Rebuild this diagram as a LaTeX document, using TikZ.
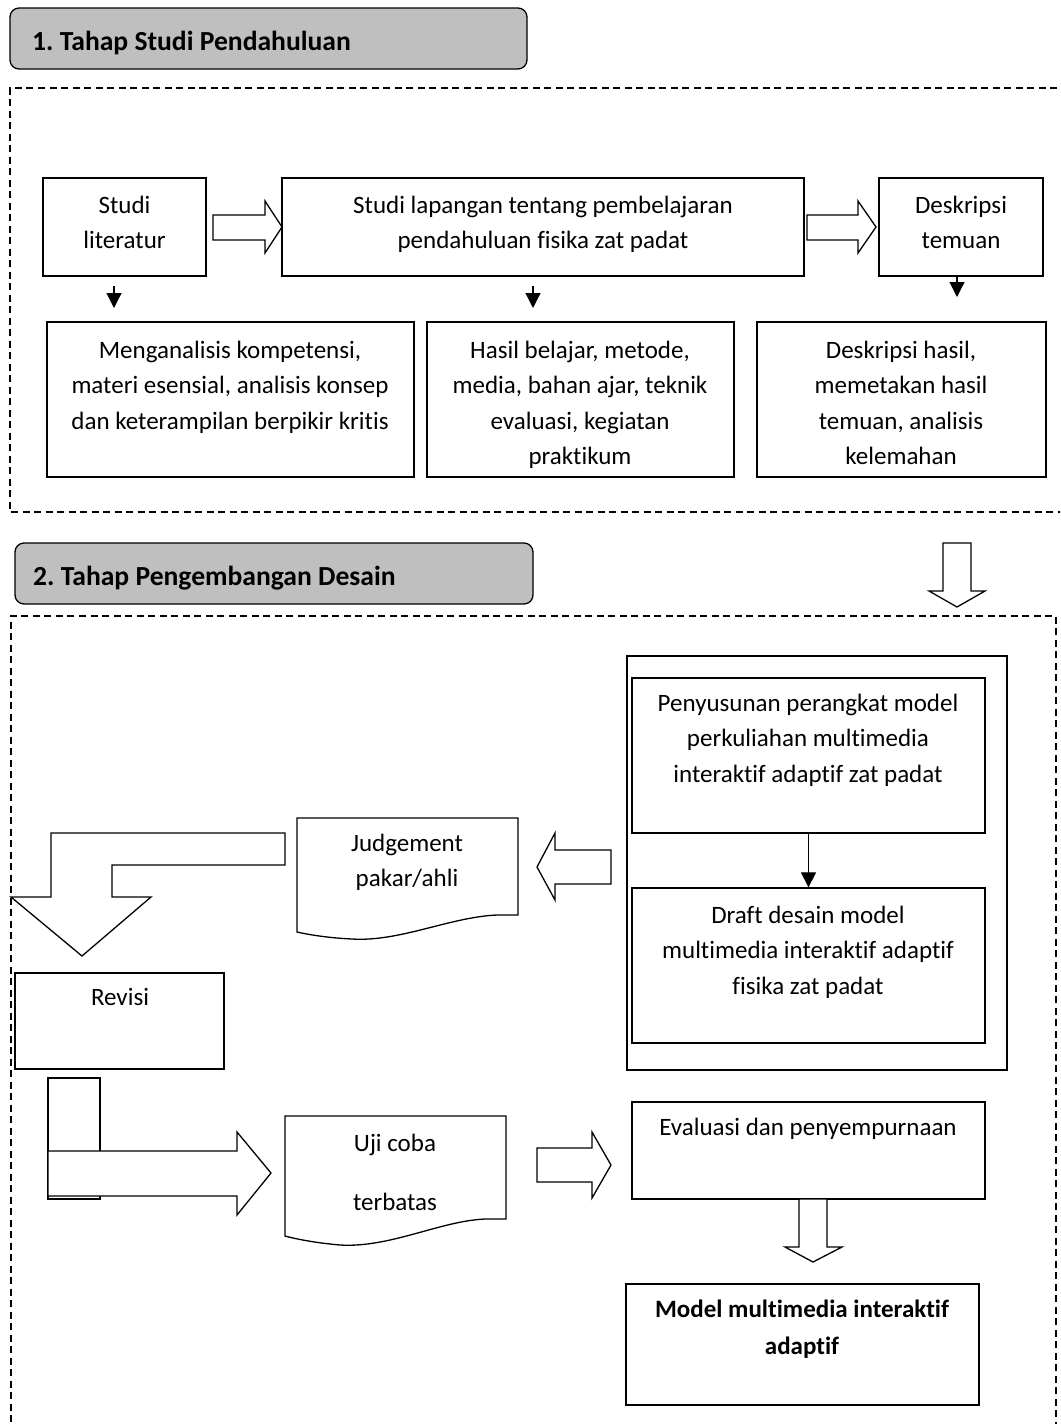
\documentclass[tikz,border=0pt]{standalone}
\usepackage{fontspec}
\setmainfont{Carlito}[Ligatures={NoCommon}]
\usetikzlibrary{arrows.meta,fit}
\definecolor{headgray}{RGB}{191,191,191}
\frenchspacing

\tikzset{
  box/.style={draw, line width=1.3pt, inner sep=0pt, fill=white},
  % multi-line labels are placed by the baseline of their last line
  lbl/.style={font=\fontsize{25}{35.5}\selectfont, align=center, anchor=base, inner sep=0pt},
  hdrbox/.style={draw, line width=1.3pt, fill=headgray, rounded corners=9pt, inner sep=0pt},
  hdrtext/.style={font=\fontsize{27.6}{32}\selectfont\bfseries, anchor=base west, inner sep=0pt},
  blockarrow/.style={draw, line width=1.3pt, fill=white, line join=miter},
  docshape/.style={draw, line width=1.3pt, fill=white},
  stagebox/.style={draw, line width=1.4pt, dash pattern=on 7pt off 4.5pt},
  smallarrow/.style={draw, line width=1.2pt, -{Triangle[width=15pt,length=15pt]}},
}

% rectangle node from its two corners
\newcommand\cornerbox[5]{\node[box, fit={(#2,#3) (#4,#5)}] (#1) {};}

\begin{document}
\begin{tikzpicture}[x=1pt, y=-1pt]
\useasboundingbox (0,0) rectangle (1060,1424);
\clip (0,0) rectangle (1060,1424);

% ---------- stage 1 ----------
\node[hdrbox, fit={(10,8) (527,69)}] (hdr1) {};
\node[hdrtext] (hdr1t) at (32,50) {1. Tahap Studi Pendahuluan};

\draw[stagebox] (1080,88) -- (10,88) -- (10,512) -- (1080,512);

\cornerbox{lit}{43}{178}{206}{276}
\cornerbox{lap}{282}{178}{804}{276}
\cornerbox{desk}{879}{178}{1043}{276}
\node[lbl] (litt) at (124.5,248.5) {Studi\\literatur};
\node[lbl] (lapt) at (543,248.5) {Studi lapangan tentang pembelajaran\\pendahuluan fisika zat padat};
\node[lbl] (deskt) at (961,248.5) {Deskripsi\\temuan};

\draw[blockarrow] (213,215) -- (265,215) -- (265,201) -- (282,227) -- (265,253) -- (265,240) -- (213,240) -- cycle;
\draw[blockarrow] (807,215) -- (858,215) -- (858,201) -- (876,227) -- (858,253) -- (858,240) -- (807,240) -- cycle;

\cornerbox{ana}{47}{322}{414}{477}
\cornerbox{hasil}{427}{322}{734}{477}
\cornerbox{deskh}{757}{322}{1046}{477}
\node[lbl] (anat) at (230,429) {Menganalisis kompetensi,\\materi esensial, analisis konsep\\dan keterampilan berpikir kritis};
\node[lbl] (hasilt) at (580,464.5) {Hasil belajar, metode,\\media, bahan ajar, teknik\\evaluasi, kegiatan\\praktikum};
\node[lbl] (deskht) at (901,464.5) {Deskripsi hasil,\\memetakan hasil\\temuan, analisis\\kelemahan};

\coordinate (d1a) at (114,286);  \coordinate (d1b) at (114,308);
\coordinate (d2a) at (533,286);  \coordinate (d2b) at (533,308);
\coordinate (d3a) at (957,276);  \coordinate (d3b) at (957,297);
\draw[smallarrow] (d1a) -- (d1b);
\draw[smallarrow] (d2a) -- (d2b);
\draw[smallarrow] (d3a) -- (d3b);

% ---------- stage 2 ----------
\node[hdrbox, fit={(15,543) (533,604)}] (hdr2) {};
\node[hdrtext] (hdr2t) at (33,585) {2. Tahap Pengembangan Desain};

\draw[blockarrow] (943,543) -- (971,543) -- (971,591) -- (985,591) -- (957,607) -- (929,591) -- (943,591) -- cycle;

\draw[stagebox] (1056,1440) -- (1056,616) -- (11,616) -- (11,1440);

% design package
\cornerbox{pkg}{627}{656}{1007}{1070}
\cornerbox{pen}{632}{678}{985}{833}
\cornerbox{draft}{632}{888}{985}{1043}
\node[lbl] (pent) at (808,782) {Penyusunan perangkat model\\perkuliahan multimedia\\interaktif adaptif zat padat};
\node[lbl] (draftt) at (808,994) {Draft desain model\\multimedia interaktif adaptif\\fisika zat padat};
\draw[line width=1.2pt, -{Triangle[width=15pt,length=15pt]}] (pen) -- (draft);

% expert judgement
\draw[blockarrow] (611,850) -- (555,850) -- (555,833) -- (537,867) -- (555,900) -- (555,884) -- (611,884) -- cycle;
\draw[docshape] (297,818) -- (518,818) -- (518,915) -- (497,915)
  .. controls (450,917) and (400,942) .. (352,939)
  .. controls (330,938) and (310,935) .. (297,932) -- cycle;
\node[lbl] (judget) at (407,886.5) {Judgement\\pakar/ahli};

\draw[blockarrow] (285,833) -- (51,833) -- (51,897) -- (11,897) -- (82,956) -- (151,897) -- (112,897) -- (112,865) -- (285,865) -- cycle;

% revision
\cornerbox{rev}{15}{973}{224}{1069}
\node[lbl] (revt) at (120,1005) {Revisi};

\cornerbox{revstem}{48}{1078}{100}{1199}
\draw[blockarrow] (48,1151) -- (237,1151) -- (237,1132) -- (271,1173) -- (237,1215) -- (237,1196) -- (48,1196) -- cycle;

% limited trial
\draw[docshape] (285,1116) -- (506,1116) -- (506,1219) -- (485,1219)
  .. controls (440,1221) and (390,1248) .. (340,1245)
  .. controls (318,1243) and (300,1240) .. (285,1236) -- cycle;
\node[lbl] (ujit) at (395,1210) {Uji coba\\[23.5pt]terbatas};

\draw[blockarrow] (537,1148) -- (592,1148) -- (592,1132) -- (611,1165) -- (592,1198) -- (592,1182) -- (537,1182) -- cycle;

% evaluation and final model
\cornerbox{eval}{632}{1102}{985}{1199}
\node[lbl] (evalt) at (808,1135) {Evaluasi dan penyempurnaan};

\draw[blockarrow] (799,1199) -- (827,1199) -- (827,1247) -- (842,1247) -- (813,1262) -- (785,1247) -- (799,1247) -- cycle;

\cornerbox{model}{626}{1284}{979}{1405}
\node[lbl, font=\fontsize{25}{37}\selectfont\bfseries] (modelt) at (802,1354) {Model multimedia interaktif\\adaptif};
\end{tikzpicture}
\end{document}
